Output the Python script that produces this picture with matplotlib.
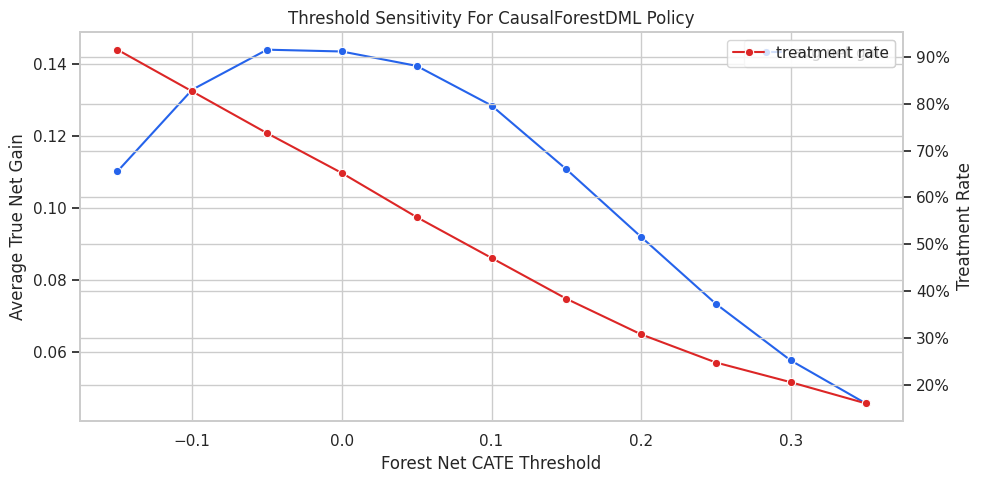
import matplotlib
matplotlib.use("Agg")
import matplotlib.pyplot as plt
import seaborn as sns
from matplotlib.ticker import PercentFormatter

thresholds = [-0.15, -0.10, -0.05, 0.00, 0.05, 0.10, 0.15, 0.20, 0.25, 0.30, 0.35]
avg_net_gain = [0.1101, 0.1328, 0.1439, 0.1434, 0.1394, 0.1284, 0.1107, 0.0919, 0.0733, 0.0576, 0.0457]
treatment_rate = [0.915, 0.826, 0.737, 0.652, 0.558, 0.471, 0.384, 0.308, 0.248, 0.206, 0.161]

sns.set_theme(style="whitegrid")
plt.rcParams['font.family'] = ['DejaVu Sans']

fig, ax = plt.subplots(figsize=(9.83, 4.84), dpi=100)
ax.plot(thresholds, avg_net_gain, color="#2563eb", marker="o", markersize=6,
        markeredgecolor="white", markeredgewidth=0.8, linewidth=1.5, label="avg net gain")
ax.set_xlabel("Forest Net CATE Threshold")
ax.set_ylabel("Average True Net Gain")
ax.set_title("Threshold Sensitivity For CausalForestDML Policy")
ax.legend(loc="upper right")

ax2 = ax.twinx()
ax2.plot(thresholds, treatment_rate, color="#dc2626", marker="o", markersize=6,
         markeredgecolor="white", markeredgewidth=0.8, linewidth=1.5, label="treatment rate")
ax2.set_ylabel("Treatment Rate")
ax2.yaxis.set_major_formatter(PercentFormatter(1.0, decimals=0))
ax2.legend(loc="upper right")

fig.subplots_adjust(left=80/983, right=903/983, top=1-32/484, bottom=1-421/484)
fig.savefig("out.png", dpi=100)
